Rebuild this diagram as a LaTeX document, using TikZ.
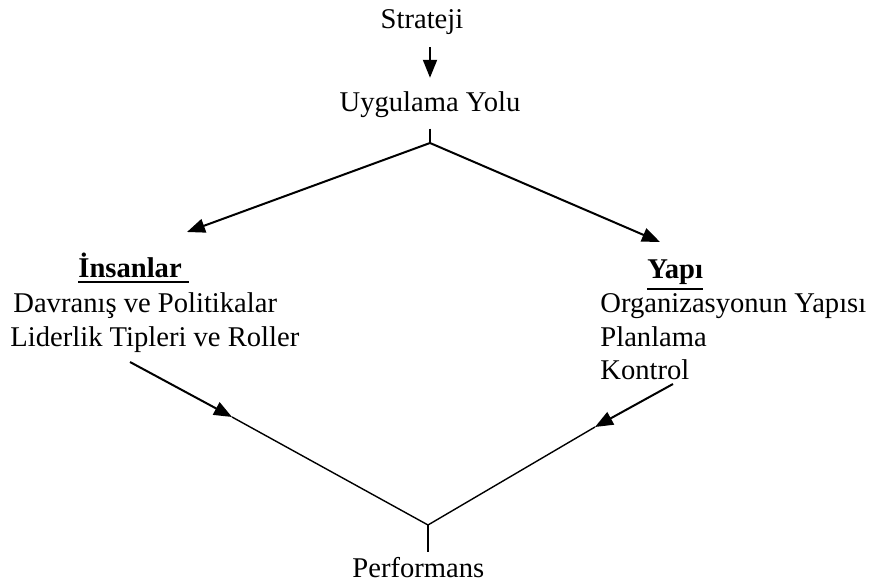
\documentclass[tikz,border=0pt]{standalone}
\usepackage{fontspec}
\setmainfont{Liberation Serif}
\usetikzlibrary{arrows.meta}
\newcommand{\ulhead}[1]{\vtop{\hbox{\bfseries #1}\kern1.3pt\hrule height 1pt}}

\begin{document}
\begin{tikzpicture}[x=0.5pt,y=-0.5pt,
                    every node/.style={font=\fontsize{14.3}{17}\selectfont,inner sep=0pt},
                    arr/.style={-{Triangle[length=9pt,width=7pt]},line width=1pt},
                    plain/.style={line width=0.7pt}]
  \useasboundingbox (0,0) rectangle (878,582);
  \tikzstyle{txt}=[anchor=base west]

  \node[anchor=base] (strat) at (422,29)  {Strateji};
  \node[anchor=base] (yol)   at (430,112) {Uygulama Yolu};

  \node[txt] (insan) at (78,278)  {\ulhead{İnsanlar\ }};
  \node[txt] (dav)   at (13,313)  {Davranış ve Politikalar};
  \node[txt] (lid)   at (10,347)  {Liderlik Tipleri ve Roller};

  \node[txt] (yapi)  at (647,279) {\ulhead{Yapı}};
  \node[txt] (org)   at (600,313) {Organizasyonun Yapısı};
  \node[txt] (plan)  at (600,347) {Planlama};
  \node[txt] (kont)  at (600,380) {Kontrol};

  \node[txt] (perf)  at (352,577) {Performans};

  % junctions and free ends
  \coordinate (jtop)    at (430,143);
  \coordinate (insIn)   at (187,232);
  \coordinate (yapiIn)  at (660,242);
  \coordinate (insOut)  at (130,362);
  \coordinate (insMid)  at (232,417);
  \coordinate (yapiOut) at (673,384);
  \coordinate (yapiMid) at (595,427);
  \coordinate (jbot)    at (428,525);

  \draw[arr] ([yshift=-6pt]strat.south -| yol.north) -- ([yshift=7pt]yol.north);
  \draw[plain] ([yshift=-5pt]yol.south) -- (jtop);
  \draw[arr] (jtop) -- (insIn);
  \draw[arr] (jtop) -- (yapiIn);

  \draw[arr] (insOut) -- (insMid);
  \draw[plain] (insMid) -- (jbot);
  \draw[arr] (yapiOut) -- (yapiMid);
  \draw[plain] (yapiMid) -- (jbot);
  \draw[plain] (jbot) -- ([yshift=2pt]jbot |- perf.north);
\end{tikzpicture}
\end{document}
